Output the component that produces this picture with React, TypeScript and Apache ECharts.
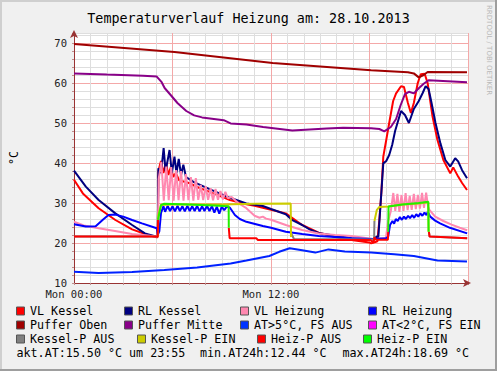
import React, { useEffect, useRef } from 'react';
import * as echarts from 'echarts';

const FONT = '"DejaVu Sans Mono", monospace';

// ---- texts / ticks ----
const titleText = 'Temperaturverlauf Heizung am: 28.10.2013';
const unitLabel = '°C';
const xTickHours = [0, 12];
const xTickLabels = ['Mon 00:00', 'Mon 12:00'];
const yTickValues = [10, 20, 30, 40, 50, 60, 70];
const aktAT = '15.50';
const aktTime = '23:55';
const minAT = '12.44';
const maxAT = '18.69';

// ---- series names ----
const seriesNames = [
  'VL Kessel', 'RL Kessel', 'VL Heizung', 'RL Heizung',
  'Puffer Oben', 'Puffer Mitte', 'AT>5°C, FS AUS', 'AT<2°C, FS EIN',
  'Kessel-P AUS', 'Kessel-P EIN', 'Heiz-P AUS', 'Heiz-P EIN',
];

// ---- data: [hour, °C] ----
const vlKessel = [
  [0, 35.8], [0.54, 32.4], [1.5, 28.7], [2.52, 25.75], [3.54, 23.4], [4.5, 22.0], [5.04, 21.4],
  [5.1, 21.5], [5.14, 38], [5.3, 40.5], [5.45, 37.5], [5.6, 40], [5.75, 37], [5.9, 39], [6.05, 36.5],
  [6.2, 37.5], [6.4, 35.7], [7.0, 35], [7.5, 34], [8.5, 32.4], [9.5, 30.75], [10.5, 29.7], [11.0, 29.3],
  [12.0, 28.3], [12.9, 27.4], [13.9, 24.5], [14.9, 22.6], [15.9, 21.5], [16.9, 20.75], [18.0, 20.1],
  [18.1, 19.9], [18.4, 20.3], [18.48, 20.4], [18.6, 25.75], [18.72, 32.5], [18.84, 41.6], [19.02, 45.75],
  [19.2, 50], [19.44, 55.5], [19.62, 57.4], [19.92, 59.2], [20.1, 59], [20.34, 55], [20.52, 52.5],
  [20.7, 55], [20.94, 60], [21.12, 62.2], [21.36, 62.3], [21.54, 60], [21.84, 51.6], [22.14, 45.75],
  [22.5, 40.75], [22.92, 37.4], [23.1, 38.9], [23.4, 36.6], [23.64, 35], [23.94, 33.25],
];
const rlKessel = [
  [0, 38.1], [0.72, 34.1], [1.5, 30.75], [2.52, 27.4], [3.54, 24.5], [4.32, 22.4], [5.04, 21.6],
  [5.1, 22], [5.14, 38.7], [5.3, 37.5], [5.46, 43.7], [5.58, 37.9], [5.82, 43.25], [5.96, 37.5],
  [6.12, 41.6], [6.24, 37.5], [6.38, 41], [6.52, 37], [6.66, 39.6], [6.82, 36.5], [7.3, 35.2],
  [8.4, 33.2], [9.5, 31.3], [10.5, 29.9], [11.5, 29.25], [12.0, 28.5], [12.9, 27.2], [13.3, 25.7],
  [13.9, 24.5], [14.4, 23.3], [14.9, 22.5], [15.9, 21.8], [16.9, 21.2], [18.2, 20.9], [18.45, 21.6],
  [18.54, 21.6], [18.72, 32.5], [18.84, 39.9], [19.02, 40.5], [19.2, 42], [19.38, 44.5], [19.56, 48],
  [19.74, 50.5], [19.92, 53], [20.16, 52], [20.4, 50], [20.7, 53.5], [21.0, 55.5], [21.24, 57.5],
  [21.42, 59.2], [21.6, 58.5], [21.78, 55], [22.02, 50], [22.32, 44.9], [22.62, 40.75], [22.92, 39.1],
  [23.22, 41.2], [23.4, 40.4], [23.64, 38.2], [23.94, 36.2],
];
const vlHeizung = [
  [0, 25.3], [0.6, 24.4], [1.5, 23.7], [2.5, 23.0], [3.54, 22.25], [4.5, 21.9], [5.04, 21.6],
  [5.1, 22.5], [5.16, 36], [5.32, 40.3], [5.47, 30.6], [5.62, 39.1], [5.77, 30.7], [5.92, 39],
  [6.07, 30.6], [6.22, 38.2], [6.37, 30.7], [6.52, 38], [6.67, 30.6], [6.82, 37.2], [6.97, 30.7],
  [7.12, 36.5], [7.27, 30.6], [7.42, 36.2], [7.57, 30.8], [7.72, 34.5], [7.87, 30.7], [8.02, 34.2],
  [8.17, 30.8], [8.32, 33.7], [8.47, 30.7], [8.62, 33.5], [8.77, 30.8], [8.92, 33], [9.07, 30.9],
  [9.22, 32.8], [9.37, 31.2], [9.6, 31.5], [10.0, 30], [10.5, 28.7], [11.0, 26.8], [11.3, 26.3],
  [11.5, 26.6], [11.7, 26.1], [12.0, 25.8], [12.9, 24.5], [13.9, 23.25], [14.9, 22.4], [15.9, 22],
  [16.9, 21.75], [18.2, 21], [18.6, 21], [19.0, 21.3], [19.14, 25.5], [19.3, 28], [19.45, 32.5],
  [19.57, 28], [19.7, 32.3], [19.82, 27.8], [19.95, 32], [20.07, 28], [20.2, 32.5], [20.32, 28.2],
  [20.45, 31.8], [20.57, 28.3], [20.7, 32.3], [20.82, 28.5], [20.95, 32], [21.07, 28.6], [21.2, 32.5],
  [21.32, 28.8], [21.45, 32.6], [21.57, 29], [21.65, 28.3], [22.0, 26.6], [22.5, 25.5], [23.0, 24.6],
  [23.5, 23.8], [23.95, 23.2],
];
const rlHeizung = [
  [0, 24.7], [0.72, 24.1], [1.32, 24.2], [1.74, 25.75], [2.1, 27], [2.52, 27.1], [3.0, 26.6],
  [3.54, 25.75], [4.14, 24.9], [5.04, 23.7], [5.1, 22], [5.2, 23], [5.3, 27.5], [5.45, 29.2],
  [5.55, 27.8], [5.7, 29.3], [5.85, 28], [6.0, 29.2], [6.15, 27.9], [6.3, 29.3], [6.45, 28],
  [6.6, 29.2], [6.75, 27.9], [6.9, 29.3], [7.05, 28], [7.2, 29.2], [7.35, 28], [7.5, 29.3],
  [7.65, 27.9], [7.8, 29.2], [7.95, 28], [8.1, 29.3], [8.25, 28], [8.4, 29.2], [8.55, 27.6],
  [8.7, 29.1], [8.85, 27.3], [9.0, 29.1], [9.15, 28.2], [9.3, 29.1], [9.5, 28.8], [9.8, 27],
  [10.1, 26], [10.5, 25.3], [11.5, 24.25], [12.0, 23.8], [12.9, 22.8], [13.9, 22.25], [14.9, 21.75],
  [15.9, 21.5], [16.9, 21.2], [18.2, 21], [18.5, 21.1], [19.0, 21.2], [19.14, 21.6], [19.25, 24.5],
  [19.4, 25.5], [19.5, 24.8], [19.6, 26], [19.72, 25.5], [19.85, 26.5], [19.97, 25.8], [20.1, 26.6],
  [20.22, 26], [20.35, 26.8], [20.47, 26.2], [20.6, 27], [20.72, 26.3], [20.85, 27.2], [20.97, 26.6],
  [21.1, 27.4], [21.22, 26.8], [21.35, 27.6], [21.47, 27], [21.55, 27.8], [21.7, 26.6], [22.0, 25.6],
  [22.3, 24.9], [22.9, 23.8], [23.95, 22.4],
];
const pufferOben = [
  [0, 69.75], [6.12, 67.75], [12.1, 65], [18.1, 63.2], [20.34, 62.7], [20.7, 62.4], [21.0, 61.4],
  [21.3, 62.0], [21.54, 62.75], [23.94, 62.7],
];
const pufferMitte = [
  [0, 62.4], [2.0, 62.1], [4.2, 61.8], [5.04, 61.6], [5.34, 60.2], [5.52, 58.75], [5.94, 56.75],
  [6.3, 55], [6.84, 53], [7.32, 51.9], [7.8, 51.4], [9.12, 50.7], [9.54, 49.9], [10.5, 49.6],
  [11.52, 49], [13.3, 48.1], [15.4, 48.6], [16.4, 48.8], [18.1, 48.7], [18.6, 48.5], [18.9, 47.9],
  [19.3, 49.0], [19.62, 51], [19.9, 54.5], [20.16, 57.2], [20.4, 57.8], [20.7, 57.4], [21.0, 58.7],
  [21.3, 59.8], [21.6, 60.7], [23.94, 60.2],
];
const atAbove5 = [
  [0, 12.8], [1.5, 12.5], [3.54, 12.75], [5.5, 13.25], [7.5, 13.9], [9.54, 14.9], [10.5, 15.6],
  [11.9, 16.75], [12.5, 17.8], [13.14, 18.69], [13.9, 18.2], [14.7, 17.6], [15.5, 18.4], [16.5, 17.9],
  [18.1, 17.6], [19.5, 17.2], [20.7, 16.75], [22.14, 15.6], [23.94, 15.4],
];
const atBelow2: number[][] = [];
const kesselPAus = [
  [0, 21.6], [5.1, 21.6], [5.11, null], [13.2, null], [13.22, 22.5], [13.4, 21.0], [18.2, 20.9],
  [18.28, 20.9], [18.3, 25.5], [18.31, null], [21.61, null], [21.62, 22.8], [21.66, 21.6], [23.95, 21.2],
];
const kesselPEin = [
  [5.1, 21.6], [5.14, 27], [5.3, 29.5], [6.0, 29.6], [9.0, 29.6], [11.0, 29.8], [13.2, 29.9],
  [13.22, 21.5], [13.23, null], [18.29, null], [18.3, 25.5], [18.45, 28.3], [18.6, 29.0], [19.14, 29.1],
  [20.0, 29.6], [21.0, 29.9], [21.58, 30.2], [21.6, 22.8],
];
const heizPAus = [
  [0, 21.6], [5.1, 21.6], [5.12, 25.8], [5.13, null], [9.42, null], [9.43, 23.8], [9.48, 21.2],
  [11.1, 21.2], [11.2, 20.75], [18.05, 20.75], [18.25, 20.1], [18.3, 21.4], [18.4, 20.8],
  [19.12, 20.8], [19.14, 22.8], [19.15, null], [21.6, null], [21.62, 22.8], [21.66, 21.6],
  [23.0, 21.4], [23.95, 21.2],
];
const heizPEin = [
  [5.12, 25.8], [5.3, 29.5], [5.5, 29.8], [7.0, 29.6], [8.5, 29.4], [9.42, 29.2], [9.43, 23.8],
  [9.44, null], [19.13, null], [19.14, 22.8], [19.16, 29.1], [20.0, 29.6], [21.0, 30.0], [21.58, 30.3],
  [21.6, 22.8],
];

const seriesData = [
  vlKessel, rlKessel, vlHeizung, rlHeizung, pufferOben, pufferMitte,
  atAbove5, atBelow2, kesselPAus, kesselPEin, heizPAus, heizPEin,
];

// ---- styles ----
const lineColors = [
  '#ff0000', '#000080', '#ff88b0', '#0000ff', '#a00000', '#880088',
  '#0022ff', '#ff00ff', '#808080', '#cccc00', '#ff0000', '#22ee00',
];
const boxColors = [
  '#ff0000', '#000080', '#ff88b0', '#0000ff', '#a00000', '#880088',
  '#0033ff', '#ff00ff', '#808080', '#cccc00', '#ff0000', '#00ff00',
];
const legendRowsY = [311, 325, 339];
const legendColsX = [
  [16, 124, 240, 368],
  [16, 124, 240, 368],
  [16, 137, 257, 363],
];
const MAJOR = '#f4a8a8';
const MINOR = '#dedede';

export default function App() {
  const ref = useRef<HTMLDivElement>(null);
  useEffect(() => {
    if (!ref.current) return;
    const chart = echarts.init(ref.current, null, { renderer: 'svg' });

    const graphic: any[] = [];
    // frame
    graphic.push({ type: 'rect', shape: { x: 0, y: 0, width: 497, height: 2 }, style: { fill: '#cfcfcf' }, silent: true });
    graphic.push({ type: 'rect', shape: { x: 0, y: 0, width: 2, height: 371 }, style: { fill: '#cfcfcf' }, silent: true });
    graphic.push({ type: 'rect', shape: { x: 0, y: 369, width: 497, height: 2 }, style: { fill: '#9e9e9e' }, silent: true });
    graphic.push({ type: 'rect', shape: { x: 495, y: 0, width: 2, height: 371 }, style: { fill: '#9e9e9e' }, silent: true });
    // legend
    seriesNames.forEach((name, i) => {
      const row = Math.floor(i / 4);
      const col = i % 4;
      const x = legendColsX[row][col];
      const y = legendRowsY[row];
      graphic.push({
        type: 'rect', silent: true,
        shape: { x: x + 0.5, y: y - 4, width: 8, height: 8 },
        style: { fill: boxColors[i], stroke: '#555', lineWidth: 1 },
      });
      graphic.push({
        type: 'text', silent: true, x: x + 14, y: y,
        style: { text: name, font: `11.7px ${FONT}`, fill: '#000', align: 'left', verticalAlign: 'middle', textAlign: 'left', textVerticalAlign: 'middle' },
      });
    });
    const footer = [
      `akt.AT:${aktAT} °C um ${aktTime}`,
      `min.AT24h:${minAT} °C`,
      `max.AT24h:${maxAT} °C`,
    ];
    const footerX = [16.5, 200, 342.5];
    footer.forEach((t, i) => {
      graphic.push({
        type: 'text', silent: true, x: footerX[i], y: 353,
        style: { text: t, font: `11.7px ${FONT}`, fill: '#000', align: 'left', verticalAlign: 'middle', textAlign: 'left', textVerticalAlign: 'middle' },
      });
    });
    graphic.push({
      type: 'text', silent: true, x: 485, y: 5, rotation: -Math.PI / 2,
      style: { text: 'RRDTOOL / TOBI OETIKER', font: '7px "DejaVu Sans", sans-serif', fill: '#b8b8b8', align: 'left', verticalAlign: 'bottom', textAlign: 'left', textVerticalAlign: 'bottom' },
    });

    const xMajorMinor = [MAJOR, MINOR, MINOR, MINOR, MINOR, MINOR];
    const yMajorMinor = [MAJOR, MINOR, MINOR, MINOR, MINOR];

    chart.setOption({
      animation: false,
      backgroundColor: '#f0f0f0',
      title: {
        text: titleText, left: 'center', top: 7,
        textStyle: { fontFamily: FONT, fontSize: 13.4, fontWeight: 'normal', color: '#000' },
      },
      grid: { left: 68, right: 29, top: 33, bottom: 88, show: true, backgroundColor: '#ffffff', borderWidth: 0 },
      xAxis: {
        type: 'value', min: 0, max: 24, interval: 1,
        axisLine: { show: true, lineStyle: { color: '#993333', width: 1 }, symbol: ['none', 'arrow'], symbolSize: [6, 8], symbolOffset: [0, 3] },
        axisTick: { show: true, length: 2, lineStyle: { color: '#c09090' } },
        axisLabel: {
          fontFamily: FONT, fontSize: 10.5, color: '#222', margin: 5,
          formatter: (v: number) => { const k = xTickHours.indexOf(v); return k >= 0 ? xTickLabels[k] : ''; },
        },
        splitLine: { show: true, lineStyle: { color: xMajorMinor, width: 1 } },
      },
      yAxis: {
        type: 'value', min: 10, max: 72.5, interval: 2,
        name: unitLabel, nameLocation: 'middle', nameGap: 54, nameRotate: 90,
        nameTextStyle: { fontFamily: FONT, fontSize: 11.7, color: '#000' },
        axisLine: { show: true, lineStyle: { color: '#993333', width: 1 }, symbol: ['none', 'arrow'], symbolSize: [6, 8], symbolOffset: [0, 3] },
        axisTick: { show: true, length: 2, lineStyle: { color: '#c09090' } },
        axisLabel: {
          fontFamily: FONT, fontSize: 10.5, color: '#222', margin: 7,
          formatter: (v: number) => (yTickValues.indexOf(v) >= 0 ? String(v) : ''),
        },
        splitLine: { show: true, lineStyle: { color: yMajorMinor, width: 1 } },
      },
      series: seriesNames.map((name, i) => ({
        name, type: 'line', data: seriesData[i], showSymbol: false, symbol: 'none',
        connectNulls: false, silent: true,
        lineStyle: { color: lineColors[i], width: 2 },
        itemStyle: { color: lineColors[i] },
        emphasis: { disabled: true },
      })),
      graphic,
    });
    return () => chart.dispose();
  }, []);
  return <div ref={ref} style={{ position: 'fixed', left: 0, top: 0, width: 497, height: 371 }} />;
}
